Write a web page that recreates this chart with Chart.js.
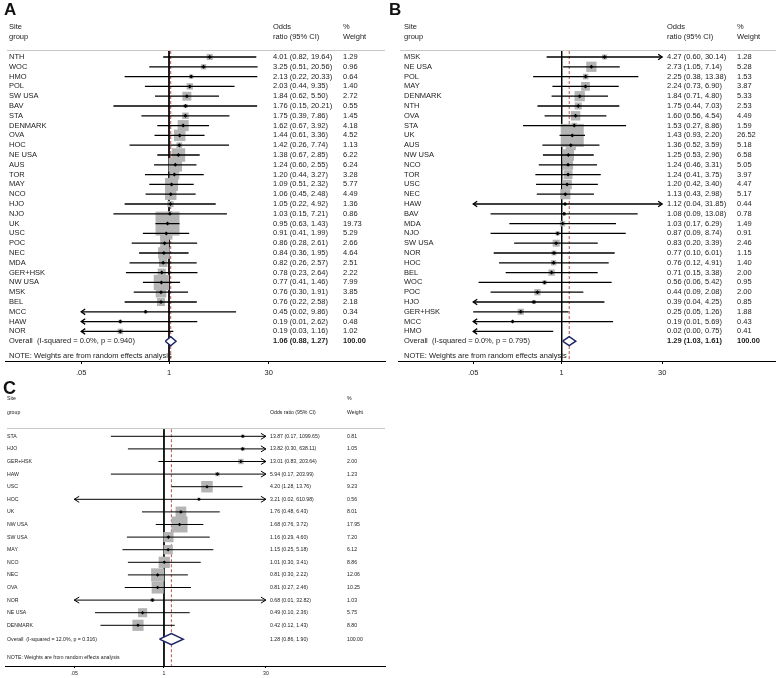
<!DOCTYPE html>
<html>
<head>
<meta charset="utf-8">
<script src="https://cdn.jsdelivr.net/npm/chart.js@4.4.0/dist/chart.umd.min.js"></script>
<style>
  body { margin: 0; background: #fff; }
  #wrap { position: relative; width: 776px; height: 678px; }
  canvas { position: absolute; }
</style>
</head>
<body>
<div id="wrap">
  <canvas id="chartA" width="388" height="380" style="left:0;top:0"></canvas>
  <canvas id="chartB" width="391" height="380" style="left:385px;top:0"></canvas>
  <canvas id="chartC" width="390" height="298" style="left:0;top:380px"></canvas>
</div>
<script>
// panel A
var sitesA = ['NTH', 'WOC', 'HMO', 'POL', 'SW USA', 'BAV', 'STA', 'DENMARK', 'OVA', 'HOC', 'NE USA', 'AUS', 'TOR', 'MAY', 'NCO',
  'HJO', 'NJO', 'UK', 'USC', 'POC', 'NEC', 'MDA', 'GER+HSK', 'NW USA', 'MSK', 'BEL', 'MCC', 'HAW', 'NOR'];
var orA = [4.01, 3.25, 2.13, 2.03, 1.84, 1.76, 1.75, 1.62, 1.44, 1.42, 1.38, 1.24, 1.20, 1.09, 1.06,
  1.05, 1.03, 0.95, 0.91, 0.86, 0.84, 0.82, 0.78, 0.77, 0.76, 0.76, 0.45, 0.19, 0.19];
var lowA = [0.82, 0.51, 0.22, 0.44, 0.62, 0.15, 0.39, 0.67, 0.61, 0.26, 0.67, 0.60, 0.44, 0.51, 0.45,
  0.22, 0.15, 0.63, 0.41, 0.28, 0.36, 0.26, 0.23, 0.41, 0.30, 0.22, 0.02, 0.01, 0.03];
var highA = [19.64, 20.56, 20.33, 9.35, 5.50, 20.21, 7.86, 3.92, 3.36, 7.74, 2.85, 2.55, 3.27, 2.32, 2.48,
  4.92, 7.21, 1.43, 1.99, 2.61, 1.95, 2.57, 2.64, 1.46, 1.91, 2.58, 9.86, 2.62, 1.16];
var weightA = [1.29, 0.96, 0.64, 1.40, 2.72, 0.55, 1.45, 4.18, 4.52, 1.13, 6.22, 6.24, 3.28, 5.77, 4.49,
  1.36, 0.86, 19.73, 5.29, 2.66, 4.64, 2.51, 2.22, 7.99, 3.85, 2.18, 0.34, 0.48, 1.02];
var overallA = [1.06, 0.88, 1.27];
var hetA = 'Overall  (I-squared = 0.0%, p = 0.940)';

// panel B
var sitesB = ['MSK', 'NE USA', 'POL', 'MAY', 'DENMARK', 'NTH', 'OVA', 'STA', 'UK', 'AUS', 'NW USA', 'NCO', 'TOR', 'USC', 'NEC',
  'HAW', 'BAV', 'MDA', 'NJO', 'SW USA', 'NOR', 'HOC', 'BEL', 'WOC', 'POC', 'HJO', 'GER+HSK', 'MCC', 'HMO'];
var orB = [4.27, 2.73, 2.25, 2.24, 1.84, 1.75, 1.60, 1.53, 1.43, 1.36, 1.25, 1.24, 1.24, 1.20, 1.13,
  1.12, 1.08, 1.03, 0.87, 0.83, 0.77, 0.76, 0.71, 0.56, 0.44, 0.39, 0.25, 0.19, 0.02];
var lowB = [0.60, 1.05, 0.38, 0.73, 0.71, 0.44, 0.56, 0.27, 0.93, 0.52, 0.53, 0.46, 0.41, 0.42, 0.43,
  0.04, 0.09, 0.17, 0.09, 0.20, 0.10, 0.12, 0.15, 0.06, 0.09, 0.04, 0.05, 0.01, 0.00];
var highB = [30.14, 7.14, 13.38, 6.90, 4.80, 7.03, 4.54, 8.86, 2.20, 3.59, 2.96, 3.31, 3.75, 3.40, 2.98,
  31.85, 13.08, 6.29, 8.74, 3.39, 6.01, 4.91, 3.38, 5.42, 2.08, 4.25, 1.26, 5.69, 0.75];
var weightB = [1.28, 5.28, 1.53, 3.87, 5.33, 2.53, 4.49, 1.59, 26.52, 5.18, 6.58, 5.05, 3.97, 4.47, 5.17,
  0.44, 0.78, 1.49, 0.91, 2.46, 1.15, 1.40, 2.00, 0.95, 2.00, 0.85, 1.88, 0.43, 0.41];
var overallB = [1.29, 1.03, 1.61];
var hetB = 'Overall  (I-squared = 0.0%, p = 0.795)';

// panel C
var sitesC = ['STA', 'HJO', 'GER+HSK', 'HAW', 'USC', 'HOC', 'UK', 'NW USA', 'SW USA', 'MAY', 'NCO', 'NEC', 'OVA', 'NOR',
  'NE USA', 'DENMARK'];
var orC = [13.87, 13.82, 13.01, 5.94, 4.20, 3.21, 1.76, 1.68, 1.16, 1.15, 1.01, 0.81, 0.81, 0.68, 0.49, 0.42];
var lowC = [0.17, 0.30, 0.83, 0.17, 1.28, 0.02, 0.48, 0.76, 0.29, 0.25, 0.30, 0.30, 0.27, 0.01, 0.10, 0.12];
var highC = [1099.65, 638.11, 203.64, 203.99, 13.76, 610.98, 6.43, 3.72, 4.60, 5.18, 3.41, 2.22, 2.46, 32.82, 2.36, 1.43];
var weightC = [0.81, 1.05, 2.00, 1.23, 9.23, 0.56, 8.01, 17.95, 7.20, 6.12, 8.86, 12.06, 10.25, 1.03, 5.75, 8.80];
var overallC = [1.28, 0.86, 1.90];
var hetC = 'Overall  (I-squared = 12.0%, p = 0.316)';

var tickValues = [0.05, 1, 30];
var tickLabels = ['.05', '1', '30'];
var clipLow = 0.05;
var clipHigh = 30;
var note = 'NOTE: Weights are from random effects analysis';
var FONT = '"Liberation Sans", Arial, sans-serif';
var GAP = {x: NaN, y: NaN};

function fmt(v) {
  return v.toFixed(2);
}

function forest(id, d, L) {
  var n = d.sites.length;
  var maxW = Math.max.apply(null, d.weight);
  var boxes = [], boxR = [], marks = [], ci = [];

  for (var i = 0; i < n; i++) {
    var inside = d.or[i] >= clipLow && d.or[i] <= clipHigh;
    boxes.push(inside ? {x: d.or[i], y: i} : GAP);
    boxR.push(L.boxMax * Math.sqrt(d.weight[i] / maxW) / Math.SQRT2);
    marks.push(inside ? {x: d.or[i], y: i} : GAP);
    ci.push({x: Math.max(d.low[i], clipLow), y: i});
    ci.push({x: Math.min(d.high[i], clipHigh), y: i});
    ci.push(GAP);
  }

  var ov = d.overall;
  var oy = L.overallRow;
  var diamond = [
    {x: ov[1], y: oy}, {x: ov[0], y: oy - L.diamondH}, {x: ov[2], y: oy},
    {x: ov[0], y: oy + L.diamondH}, {x: ov[1], y: oy}
  ];

  var forestText = {
    id: 'forestText',
    beforeDatasetsDraw: function (chart) {
      var ctx = chart.ctx, area = chart.chartArea;
      var y = Math.round(chart.scales.y.getPixelForValue(L.sepRow)) + 0.5;
      ctx.save();
      ctx.strokeStyle = '#c8c8c8';
      ctx.lineWidth = 1;
      ctx.beginPath();
      ctx.moveTo(area.left + 2, y);
      ctx.lineTo(area.right, y);
      ctx.stroke();
      ctx.restore();
    },
    afterDatasetsDraw: function (chart) {
      // arrow heads where the interval runs off the scale
      var ctx = chart.ctx, xs = chart.scales.x, ys = chart.scales.y;
      ctx.save();
      ctx.strokeStyle = '#000';
      ctx.lineWidth = L.ciWidth;
      for (var i = 0; i < n; i++) {
        var y = ys.getPixelForValue(i);
        if (d.low[i] < clipLow) {
          var x0 = xs.getPixelForValue(clipLow);
          ctx.beginPath();
          ctx.moveTo(x0 + L.arrowLen, y - L.arrowW);
          ctx.lineTo(x0, y);
          ctx.lineTo(x0 + L.arrowLen, y + L.arrowW);
          ctx.stroke();
        }
        if (d.high[i] > clipHigh) {
          var x1 = xs.getPixelForValue(clipHigh);
          ctx.beginPath();
          ctx.moveTo(x1 - L.arrowLen, y - L.arrowW);
          ctx.lineTo(x1, y);
          ctx.lineTo(x1 - L.arrowLen, y + L.arrowW);
          ctx.stroke();
        }
      }
      ctx.restore();
    },
    afterDraw: function (chart) {
      var ctx = chart.ctx, ys = chart.scales.y;
      ctx.save();
      ctx.fillStyle = '#111';
      ctx.textBaseline = 'middle';
      ctx.textAlign = 'left';
      ctx.font = 'bold ' + L.letterSize + 'px ' + FONT;
      ctx.fillText(d.letter, L.letterX, L.letterY);

      ctx.fillStyle = '#222';
      ctx.font = L.font + 'px ' + FONT;
      L.header.forEach(function (h) {
        ctx.fillText(h[0], h[1], ys.getPixelForValue(h[2]));
      });
      for (var i = 0; i < n; i++) {
        var y = ys.getPixelForValue(i);
        ctx.fillText(d.sites[i], L.labelX, y);
        ctx.fillText(fmt(d.or[i]) + ' (' + fmt(d.low[i]) + ', ' + fmt(d.high[i]) + ')', L.oddsX, y);
        ctx.fillText(fmt(d.weight[i]), L.weightX, y);
      }
      var yo = ys.getPixelForValue(oy);
      ctx.fillText(d.het, L.labelX, yo);
      ctx.fillText(note, L.labelX, ys.getPixelForValue(L.noteRow));
      if (L.boldOverall) ctx.font = 'bold ' + L.font + 'px ' + FONT;
      ctx.fillText(fmt(ov[0]) + ' (' + fmt(ov[1]) + ', ' + fmt(ov[2]) + ')', L.oddsX, yo);
      ctx.fillText('100.00', L.weightX, yo);
      ctx.restore();
    }
  };

  return new Chart(document.getElementById(id), {
    type: 'scatter',
    data: {
      datasets: [
        {
          // line of no effect
          data: [{x: 1, y: L.sepRow + 0.1}, {x: 1, y: L.yMax}],
          showLine: true, borderColor: '#000', borderWidth: 1, pointRadius: 0, order: 6
        },
        {
          // overall estimate
          data: [{x: ov[0], y: L.sepRow + 0.1}, {x: ov[0], y: L.yMax}],
          showLine: true, borderColor: '#c0504d', borderWidth: 1, borderDash: [3, 2], pointRadius: 0, order: 5
        },
        {
          data: boxes, pointStyle: 'rect', pointRadius: boxR, pointBackgroundColor: '#b4b4b4',
          pointBorderWidth: 0, pointBorderColor: 'rgba(0,0,0,0)', order: 4
        },
        {
          data: ci, showLine: true, spanGaps: false, borderColor: '#000', borderWidth: L.ciWidth, pointRadius: 0, order: 3
        },
        {
          data: marks, pointStyle: 'rectRot', pointRadius: L.markR, pointBackgroundColor: '#000',
          pointBorderWidth: 0, order: 2
        },
        {
          data: diamond, showLine: true, borderColor: '#1c2566', borderWidth: 1.5, backgroundColor: '#fff',
          fill: 'shape', tension: 0, pointRadius: 0, order: 1
        }
      ]
    },
    options: {
      responsive: false,
      animation: false,
      events: [],
      layout: {autoPadding: false, padding: {left: L.padLeft, right: L.padRight, top: 0, bottom: 0}},
      plugins: {legend: {display: false}, tooltip: {enabled: false}},
      scales: {
        x: {
          type: 'logarithmic',
          min: L.xMin,
          max: L.xMax,
          bounds: 'data',
          afterBuildTicks: function (axis) {
            axis.ticks = tickValues.map(function (v) { return {value: v}; });
          },
          afterFit: function (axis) {
            axis.height = L.axisH;
          },
          ticks: {
            autoSkip: false,
            maxRotation: 0,
            padding: L.tickPad,
            color: '#222',
            font: {family: FONT, size: L.font},
            callback: function (v) {
              var k = tickValues.indexOf(v);
              return k < 0 ? '' : tickLabels[k];
            }
          },
          grid: {display: true, drawOnChartArea: false, drawTicks: true, tickLength: L.tickLen, color: '#000'},
          border: {display: true, color: '#000', width: 1}
        },
        y: {type: 'linear', reverse: true, min: L.yMin, max: L.yMax, display: false}
      }
    },
    plugins: [forestText]
  });
}

var headAB = function (L) {
  return [['Site', L.labelX, -3.06], ['group', L.labelX, -2.04], ['Odds', L.oddsX, -3.06],
    ['ratio (95% CI)', L.oddsX, -2.04], ['%', L.weightX, -3.06], ['Weight', L.weightX, -2.04]];
};

var layoutA = {
  padLeft: 5, padRight: 3, xMin: Math.pow(10, -2.43), xMax: Math.pow(10, 3.2),
  yMin: -5.816, yMax: 31.02, axisH: 19, tickLen: 3, tickPad: 4, font: 7.5,
  labelX: 9, oddsX: 273, weightX: 343, letterX: 4, letterY: 10, letterSize: 17,
  sepRow: -0.71, overallRow: 29, noteRow: 30.5, diamondH: 0.46, boxMax: 24,
  ciWidth: 1.3, markR: 2, arrowLen: 4, arrowW: 2.8, boldOverall: true
};
layoutA.header = headAB(layoutA);

var layoutB = {
  padLeft: 13, padRight: 0, xMin: Math.pow(10, -2.407), xMax: Math.pow(10, 3.151),
  yMin: -5.816, yMax: 31.02, axisH: 19, tickLen: 3, tickPad: 4, font: 7.5,
  labelX: 19, oddsX: 282, weightX: 352, letterX: 4, letterY: 10, letterSize: 17,
  sepRow: -0.71, overallRow: 29, noteRow: 30.5, diamondH: 0.46, boxMax: 23,
  ciWidth: 1.3, markR: 2, arrowLen: 4, arrowW: 2.8, boldOverall: true
};
layoutB.header = headAB(layoutB);

var layoutC = {
  padLeft: 5, padRight: 5, xMin: Math.pow(10, -2.304), xMax: Math.pow(10, 3.203),
  yMin: -4.468, yMax: 18.23, axisH: 12, tickLen: 2, tickPad: 2, font: 5.2,
  labelX: 7, oddsX: 270, weightX: 347, letterX: 3, letterY: 9, letterSize: 18,
  sepRow: -0.66, overallRow: 16.1, noteRow: 17.6, diamondH: 0.44, boxMax: 16,
  ciWidth: 1, markR: 1.8, arrowLen: 5, arrowW: 3, boldOverall: false
};
layoutC.header = [['Site', 7, -2.96], ['group', 7, -1.85], ['Odds ratio (95% CI)', 270, -1.85],
  ['%', 347, -2.96], ['Weight', 347, -1.85]];

forest('chartA', {letter: 'A', sites: sitesA, or: orA, low: lowA, high: highA, weight: weightA, overall: overallA, het: hetA}, layoutA);
forest('chartB', {letter: 'B', sites: sitesB, or: orB, low: lowB, high: highB, weight: weightB, overall: overallB, het: hetB}, layoutB);
forest('chartC', {letter: 'C', sites: sitesC, or: orC, low: lowC, high: highC, weight: weightC, overall: overallC, het: hetC}, layoutC);
</script>
</body>
</html>
